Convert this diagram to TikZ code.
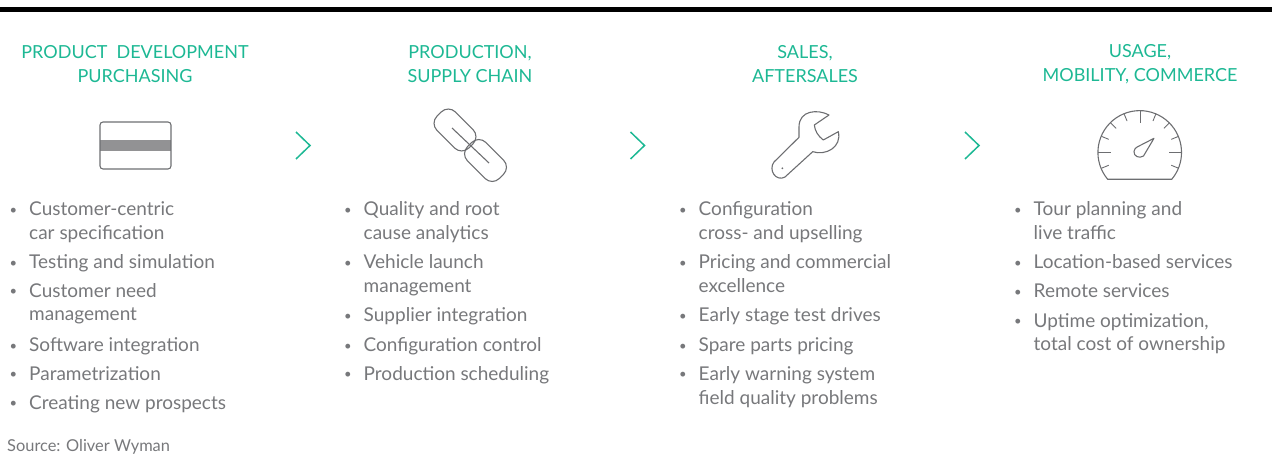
\documentclass[tikz,border=0pt]{standalone}
\usepackage{fontspec}
\setmainfont{Lato}
\definecolor{teal1}{HTML}{1DB894}
\definecolor{text1}{HTML}{77787B}
\definecolor{icon1}{HTML}{6D6E71}
\tikzset{
  heading/.style={text=teal1,align=center,inner sep=0pt,font=\fontsize{18}{24}\selectfont},
  listtext/.style={text=text1,align=left,anchor=north west,inner sep=0pt,font=\fontsize{19}{24}\selectfont},
  chevron/.style={draw=teal1,line width=1.5pt},
  icon/.style={draw=icon1,line width=1.1pt},
  chainlink/.style={icon,rectangle,rounded corners=10pt,minimum width=45pt,minimum height=26pt,rotate=-45},
}
\newcommand{\listentry}[4]{%
  \node[listtext] (b#1) at (#2-19.5,#3) {\strut\raisebox{1.5pt}{\fontsize{13}{24}\selectfont •}};
  \node[listtext] (t#1) at (#2,#3) {\strut #4};
}
\begin{document}
\begin{tikzpicture}[x=1pt,y=-1pt]
  \useasboundingbox (0,0) rectangle (1272,462);
  \fill[black] (0,7) rectangle (1272,12);
  % headings
  \node[heading] (h1) at (135,64) {PRODUCT\ \ DEVELOPMENT\\PURCHASING};
  \node[heading] (h2) at (470,64) {PRODUCTION,\\SUPPLY CHAIN};
  \node[heading] (h3) at (805,64) {SALES,\\AFTERSALES};
  \node[heading] (h4) at (1140,64) {USAGE,\\MOBILITY, COMMERCE};
  % chevrons
  \foreach \x in {296,630.5,965}
    \draw[chevron] (\x,132) -- (\x+14,145.5) -- (\x,159);
  % card
  \fill[icon1!75] (100,140) rectangle (171,151);
  \draw[icon,rounded corners=3pt] (100,122) rectangle (171,169);
  % chain
  \node[chainlink] (link1) at (455,130) {};
  \node[chainlink] (link2) at (485.5,160.5) {};
  \draw[icon] (452,128) -- (489,163);
  % wrench
  \draw[icon,line join=round] (829,115) .. controls (818,109) and (799,110) .. (799,127)
    -- (799,137.3) -- (774,162) .. controls (768,170) and (776,182) .. (785,177)
    -- (812.7,151.7) .. controls (826,156) and (842,147) .. (838.3,131.7)
    -- (823.3,140) .. controls (818,136) and (815,131) .. (814.3,125) -- cycle;
  \fill[icon1] (782.3,168.3) circle (1pt);
  % gauge
  \draw[icon] (1107.7,179.3) arc[start angle=220,end angle=-40,radius=41.8pt] -- cycle;
  \foreach \a/\l in {-157.5/8,-135/8,-112.5/8,-67.5/8,-45/8,-22.5/8,22.5/8,157.5/8,-90/13,180/13,0/13}
    \draw[icon,line width=0.9pt] (1140,152.3) ++(\a:41.8) -- ++(\a:-\l);
  \draw[icon,line join=round] (1154,138.3) -- (1143.5,156) .. controls (1139,159) and (1133.5,156) .. (1134,151.5)
    .. controls (1134,149) and (1136,147.5) .. (1137.5,146.8) -- cycle;
  % lists
  \foreach \n/\y/\t in {1/199/{Customer-centric\\car specification},2/252/{Testing and simulation},3/280/{Customer need\\management},4/335/{Software integration},5/363/{Parametrization},6/392/{Creating new prospects}}
    {\listentry{a\n}{29}{\y}{\t}}
  \foreach \n/\y/\t in {1/199/{Quality and root\\cause analytics},2/252/{Vehicle launch\\management},3/305/{Supplier integration},4/335/{Configuration control},5/363/{Production scheduling}}
    {\listentry{b\n}{363.5}{\y}{\t}}
  \foreach \n/\y/\t in {1/199/{Configuration\\cross- and upselling},2/252/{Pricing and commercial\\excellence},3/305/{Early stage test drives},4/335/{Spare parts pricing},5/363/{Early warning system\\field quality problems}}
    {\listentry{c\n}{698.5}{\y}{\t}}
  \foreach \n/\y/\t in {1/199/{Tour planning and\\live traffic},2/252/{Location-based services},3/281/{Remote services},4/310/{Uptime optimization,\\total cost of ownership}}
    {\listentry{d\n}{1033.5}{\y}{\t}}
  \node[text=text1,anchor=base west,inner sep=0pt,font=\fontsize{16.4}{18}\selectfont] (source) at (7,451) {Source: Oliver Wyman};
\end{tikzpicture}
\end{document}
